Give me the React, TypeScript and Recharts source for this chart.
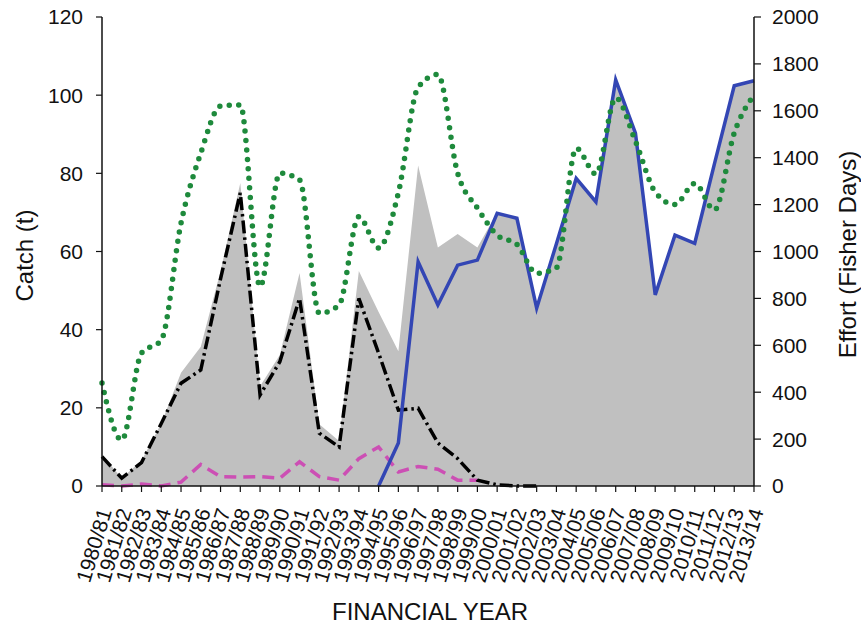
import React from 'react';
import { ComposedChart, Area, Line, XAxis, YAxis } from 'recharts';

const years = [
  '1980/81', '1981/82', '1982/83', '1983/84', '1984/85', '1985/86', '1986/87', '1987/88', '1988/89', '1989/90',
  '1990/91', '1991/92', '1992/93', '1993/94', '1994/95', '1995/96', '1996/97', '1997/98', '1998/99', '1999/00',
  '2000/01', '2001/02', '2002/03', '2003/04', '2004/05', '2005/06', '2006/07', '2007/08', '2008/09', '2009/10',
  '2010/11', '2011/12', '2012/13', '2013/14',
];

// total catch (grey area, left axis, t)
const totalCatch = [
  8, 2, 6.5, 16, 29, 35.6, 55, 77.5, 25.5, 33.5,
  54.5, 15.8, 11.5, 55, 44.5, 34.5, 82, 61, 64.5, 61,
  70, 68.5, 45.5, 62, 78.7, 72.7, 103.9, 90.3, 48.9, 64.2,
  62.1, 82.5, 102.4, 103.7,
];

// black dash-dot series (left axis, t)
const catchA: (number | null)[] = [
  7.5, 2, 6, 16, 26.3, 29.7, 53, 75, 23.3, 31.8,
  48, 13.5, 10, 48, 34, 19.4, 19.9, 11, 7, 1.5,
  0.3, 0, 0, null, null, null, null, null, null, null,
  null, null, null, null,
];

// magenta dashed series (left axis, t)
const catchB: (number | null)[] = [
  0.3, 0, 0.5, 0, 1, 5.5, 2.4, 2.3, 2.4, 2,
  6.2, 2.4, 1.5, 7, 10, 3.6, 5, 4.3, 1.5, 1.5,
  null, null, null, null, null, null, null, null, null, null,
  null, null, null, null,
];

// blue solid series (left axis, t)
const catchC: (number | null)[] = [
  null, null, null, null, null, null, null, null, null, null,
  null, null, null, null, 0, 11, 57.4, 46.3, 56.5, 57.8,
  69.8, 68.5, 45.5, 62, 78.7, 72.7, 103.9, 90.3, 48.9, 64.2,
  62.1, 82.5, 102.4, 103.7,
];

// green dotted effort (right axis, fisher days)
const effort = [
  439, 196, 567, 622, 1121, 1420, 1620, 1625, 850, 1334,
  1305, 737, 772, 1148, 1015, 1250, 1700, 1755, 1334, 1185,
  1070, 1030, 907, 930, 1440, 1330, 1655, 1470, 1254, 1200,
  1290, 1177, 1505, 1667,
];

const leftTicks = [0, 20, 40, 60, 80, 100, 120];
const rightTicks = [0, 200, 400, 600, 800, 1000, 1200, 1400, 1600, 1800, 2000];

const data = years.map((year, i) => ({
  year,
  total: totalCatch[i],
  a: catchA[i],
  b: catchB[i],
  c: catchC[i],
  effort: effort[i],
}));

const FONT = '"Liberation Sans", Arial, Helvetica, sans-serif';

const XTick = (props: any) => {
  const { x, y, payload } = props;
  return (
    <g transform={`translate(${x + 3},${y + 15})`}>
      <text
        transform="rotate(-73)"
        textAnchor="end"
        dy="0.35em"
        fontSize={21}
        fontFamily={FONT}
        fill="#111"
      >
        {payload.value}
      </text>
    </g>
  );
};

const LeftTitle = (props: any) => {
  const vb = props.viewBox || { x: 0, y: 17, width: 102, height: 469 };
  const cx = vb.x + 25;
  const cy = vb.y + vb.height / 2 + 4;
  return (
    <text
      x={cx}
      y={cy}
      transform={`rotate(-90, ${cx}, ${cy})`}
      textAnchor="middle"
      dy="0.35em"
      fontSize={24}
      fontFamily={FONT}
      fill="#111"
    >
      Catch (t)
    </text>
  );
};

const RightTitle = (props: any) => {
  const vb = props.viewBox || { x: 754, y: 17, width: 107, height: 469 };
  const cx = vb.x + 94;
  const cy = vb.y + vb.height / 2 + 3;
  return (
    <text
      x={cx}
      y={cy}
      transform={`rotate(-90, ${cx}, ${cy})`}
      textAnchor="middle"
      dy="0.35em"
      fontSize={24}
      fontFamily={FONT}
      fill="#111"
    >
      Effort (Fisher Days)
    </text>
  );
};

const BottomTitle = (props: any) => {
  const vb = props.viewBox || { x: 102, y: 486, width: 652, height: 139 };
  return (
    <text
      x={vb.x + vb.width / 2 + 2}
      y={vb.y + 134}
      textAnchor="middle"
      fontSize={24}
      fontFamily={FONT}
      fill="#111"
    >
      FINANCIAL YEAR
    </text>
  );
};

export default function App() {
  return (
    <div style={{ position: 'absolute', left: 0, top: 0, width: 861, height: 625, background: '#fff' }}>
      <ComposedChart
        width={861}
        height={625}
        data={data}
        margin={{ top: 17, right: 0, bottom: 0, left: 0 }}
      >
        <XAxis
          dataKey="year"
          scale="point"
          interval={0}
          height={139}
          tick={<XTick />}
          tickSize={6}
          axisLine={{ stroke: '#111', strokeWidth: 1.5 }}
          tickLine={{ stroke: '#111', strokeWidth: 1.2 }}
          label={<BottomTitle />}
        />
        <YAxis
          yAxisId="left"
          orientation="left"
          width={102}
          domain={[0, 120]}
          ticks={leftTicks}
          interval={0}
          tickSize={6}
          tickMargin={13}
          tick={{ fontSize: 21, fill: '#111', fontFamily: FONT }}
          axisLine={{ stroke: '#111', strokeWidth: 1.5 }}
          tickLine={{ stroke: '#111', strokeWidth: 1.2 }}
          label={<LeftTitle />}
        />
        <YAxis
          yAxisId="right"
          orientation="right"
          width={107}
          domain={[0, 2000]}
          ticks={rightTicks}
          interval={0}
          tickSize={7}
          tickMargin={11}
          tick={{ fontSize: 21, fill: '#111', fontFamily: FONT }}
          axisLine={{ stroke: '#111', strokeWidth: 1.5 }}
          tickLine={{ stroke: '#111', strokeWidth: 1.2 }}
          label={<RightTitle />}
        />
        <Area
          yAxisId="left"
          type="linear"
          dataKey="total"
          fill="#c0c0c0"
          fillOpacity={1}
          stroke="none"
          isAnimationActive={false}
        />
        <Line
          yAxisId="left"
          type="linear"
          dataKey="b"
          stroke="#cc4fb4"
          strokeWidth={3.5}
          strokeDasharray="12 7"
          dot={false}
          isAnimationActive={false}
        />
        <Line
          yAxisId="left"
          type="linear"
          dataKey="a"
          stroke="#000"
          strokeWidth={3.5}
          strokeDasharray="13 4 2.5 4"
          dot={false}
          isAnimationActive={false}
        />
        <Line
          yAxisId="left"
          type="linear"
          dataKey="c"
          stroke="#3346b4"
          strokeWidth={3.5}
          dot={false}
          isAnimationActive={false}
        />
        <Line
          yAxisId="right"
          type="monotone"
          dataKey="effort"
          stroke="#1e8a3c"
          strokeWidth={5.5}
          strokeDasharray="0 9.5"
          strokeLinecap="round"
          dot={false}
          isAnimationActive={false}
        />
      </ComposedChart>
    </div>
  );
}
